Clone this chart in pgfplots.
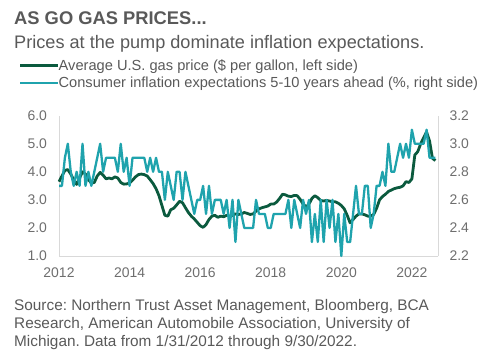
\documentclass[border=0pt]{standalone}
\usepackage{fontspec}
\setmainfont{Liberation Sans}
\usepackage{pgfplots}
\usepackage{pgfplotstable}
\pgfplotsset{compat=1.18}
\definecolor{gasgreen}{HTML}{0B5A3E}
\definecolor{expcyan}{HTML}{1FA3AD}
\definecolor{txtgrey}{HTML}{595959}
\definecolor{tickgrey}{HTML}{6E6E6E}
\definecolor{axgrey}{HTML}{D9D9D9}
\pgfplotstableread{
g c
3.65 2.7
3.85 2.7
4.05 2.9
4.08 3.0
3.92 2.8
3.72 2.7
3.55 2.8
3.78 2.7
4.00 3.0
3.92 2.7
3.72 2.8
3.60 2.7
3.62 2.8
3.85 2.9
3.98 3.0
3.88 2.8
3.75 2.9
3.78 2.9
3.75 2.9
3.82 2.9
3.78 2.8
3.62 3.0
3.56 2.8
3.57 2.9
3.60 2.7
3.70 2.9
3.82 2.9
3.90 2.9
3.92 2.9
3.90 2.9
3.85 2.8
3.72 2.9
3.58 2.8
3.40 2.9
3.15 2.8
2.80 2.8
2.45 2.6
2.42 2.8
2.65 2.7
2.70 2.6
2.82 2.8
2.95 2.8
2.90 2.6
2.72 2.8
2.55 2.7
2.42 2.6
2.32 2.5
2.20 2.6
2.08 2.6
2.02 2.7
2.12 2.5
2.30 2.7
2.42 2.5
2.45 2.6
2.38 2.6
2.42 2.6
2.40 2.5
2.45 2.6
2.42 2.4
2.45 2.6
2.50 2.3
2.48 2.6
2.50 2.5
2.55 2.4
2.52 2.4
2.48 2.4
2.50 2.4
2.60 2.6
2.68 2.5
2.72 2.5
2.75 2.5
2.78 2.4
2.85 2.4
2.85 2.5
2.92 2.5
3.05 2.5
3.20 2.5
3.18 2.5
3.13 2.6
3.12 2.4
3.16 2.6
3.15 2.5
3.02 2.4
2.85 2.6
2.75 2.5
2.85 2.6
3.05 2.3
3.15 2.5
3.08 2.3
2.98 2.6
2.96 2.3
2.98 2.6
2.96 2.4
2.93 2.6
2.93 2.3
2.88 2.5
2.80 2.2
2.68 2.5
2.45 2.3
2.18 2.3
2.30 2.5
2.42 2.7
2.50 2.5
2.50 2.5
2.47 2.7
2.42 2.7
2.42 2.4
2.48 2.5
2.70 2.7
3.00 2.7
3.12 2.8
3.20 2.7
3.30 3.0
3.35 2.8
3.40 2.8
3.43 2.9
3.45 3.0
3.50 2.9
3.65 3.0
3.62 2.9
3.75 3.1
4.60 3.0
4.72 3.0
5.00 3.0
5.22 3.0
5.42 3.1
5.10 2.9
4.48 2.9
4.40 2.9
}\data
\begin{document}
\frenchspacing
\begin{tikzpicture}[x=1bp,y=1bp]
\path (0,0) rectangle (500,357);
\begin{axis}[at={(59bp,101bp)}, anchor=south west, scale only axis,
  width=379bp, height=140.3bp,
  xmin=2012, xmax=2022.74, ymin=1, ymax=6,
  axis x line*=bottom, axis y line*=left,
  axis line style={axgrey, line width=0.8pt},
  xtick={2012,2014,2016,2018,2020,2022},
  xticklabels={2012,2014,2016,2018,2020,2022},
  ytick={1,2,3,4,5,6},
  major tick length=0pt,
  tick label style={font=\fontsize{14}{15}\selectfont, text=tickgrey},
  yticklabel style={/pgf/number format/fixed, /pgf/number format/fixed zerofill, /pgf/number format/precision=1, /pgf/number format/assume math mode=true, xshift=-8.5bp},
  xticklabel style={yshift=-8bp},
  clip=false]
\addplot[gasgreen, line width=2.8bp, line join=round] table[x expr={2012+\coordindex/12}, y=g] {\data};
\end{axis}
\begin{axis}[at={(59bp,101bp)}, anchor=south west, scale only axis,
  width=379bp, height=140.3bp,
  xmin=2012, xmax=2022.74, ymin=2.2, ymax=3.2,
  axis x line=none, axis y line*=right,
  axis line style={axgrey, line width=0.8pt},
  ytick={2.2,2.4,2.6,2.8,3.0,3.2},
  major tick length=0pt,
  tick label style={font=\fontsize{14}{15}\selectfont, text=tickgrey},
  yticklabel style={/pgf/number format/fixed, /pgf/number format/fixed zerofill, /pgf/number format/precision=1, /pgf/number format/assume math mode=true, xshift=8bp},
  clip=false]
\addplot[expcyan, line width=2.3bp, line join=round] table[x expr={2012+\coordindex/12}, y=c] {\data};
\end{axis}
\node[anchor=base west, inner sep=0, text=txtgrey, font=\fontsize{18.4}{20}\selectfont\bfseries] at (14,333) {AS GO GAS PRICES...};
\node[anchor=base west, inner sep=0, text=txtgrey, font=\fontsize{18.2}{20}\selectfont] at (14,308.7) {Prices at the pump dominate inflation expectations.};
\draw[gasgreen, line width=2.8bp] (20,291.3) -- (58,291.3);
\draw[expcyan, line width=2.3bp] (20,274) -- (58,274);
\node[anchor=base west, inner sep=0, text=txtgrey, font=\fontsize{14.7}{16}\selectfont] at (58.5,287) {Average U.S. gas price (\$ per gallon, left side)};
\node[anchor=base west, inner sep=0, text=txtgrey, font=\fontsize{14.65}{16}\selectfont] at (58.5,269.7) {Consumer inflation expectations 5-10 years ahead (\%, right side)};
\node[anchor=base west, inner sep=0, text=txtgrey, font=\fontsize{15.4}{18}\selectfont] at (14,47) {Source: Northern Trust Asset Management, Bloomberg, BCA};
\node[anchor=base west, inner sep=0, text=txtgrey, font=\fontsize{15.4}{18}\selectfont] at (14,28.7) {Research, American Automobile Association, University of};
\node[anchor=base west, inner sep=0, text=txtgrey, font=\fontsize{15.4}{18}\selectfont] at (14,10.3) {Michigan. Data from 1/31/2012 through 9/30/2022.};
\end{tikzpicture}
\end{document}
